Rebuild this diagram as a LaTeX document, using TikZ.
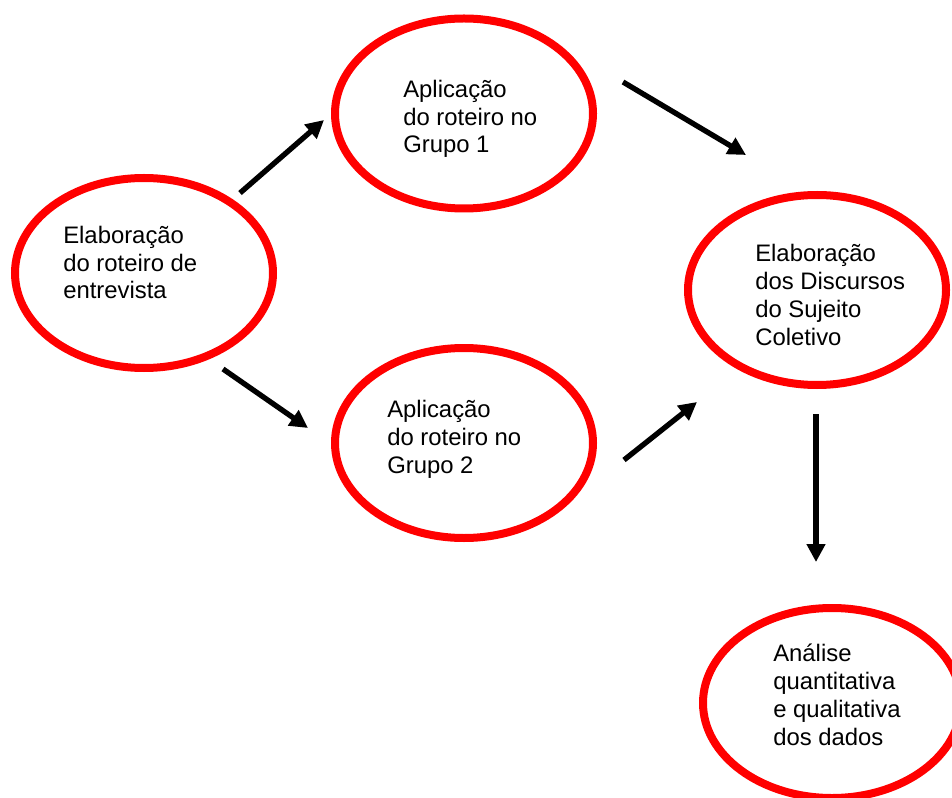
\documentclass[tikz,border=0pt]{standalone}
\usepackage{fontspec}
\setmainfont{Liberation Sans}
\usetikzlibrary{arrows.meta,shapes.geometric}
\definecolor{ellred}{RGB}{255,0,0}
\begin{document}
\begin{tikzpicture}[x=0.75pt,y=-0.75pt,
  oval/.style={ellipse,draw=ellred,line width=6pt,minimum width=193.5pt,minimum height=142.5pt,inner sep=0pt},
  lbl/.style={anchor=base west,align=left,inner sep=0pt,font=\fontsize{17.9pt}{20.8pt}\selectfont},
  flow/.style={line width=4pt,-{Triangle[length=13.5pt,width=13.5pt]}}]
\clip (0,0) rectangle (952,798);
\fill[white] (0,0) rectangle (952,798);
\node[oval] (e1) at (144,273) {};
\node[oval] (e2) at (464,113.5) {};
\node[oval] (e3) at (464,443) {};
\node[oval] (e4) at (817,290) {};
\node[oval] (e5) at (832,703) {};
\node[lbl] (t1) at (63,299) {Elaboração\\do roteiro de\\entrevista};
\node[lbl] (t2) at (403,153) {Aplicação\\do roteiro no\\Grupo 1};
\node[lbl] (t3) at (387,473) {Aplicação\\do roteiro no\\Grupo 2};
\node[lbl] (t4) at (755,345) {Elaboração\\dos Discursos\\do Sujeito\\Coletivo};
\node[lbl] (t5) at (773,745) {Análise\\quantitativa\\e qualitativa\\dos dados};
\coordinate (a1s) at (240,193); \coordinate (a1e) at (324,120);
\coordinate (a2s) at (223,369); \coordinate (a2e) at (308,428);
\coordinate (a3s) at (623,82);  \coordinate (a3e) at (746,155);
\coordinate (a4s) at (624,460); \coordinate (a4e) at (697,402);
\coordinate (a5s) at (816,414); \coordinate (a5e) at (816,562);
\draw[flow] (a1s) -- (a1e);
\draw[flow] (a2s) -- (a2e);
\draw[flow] (a3s) -- (a3e);
\draw[flow] (a4s) -- (a4e);
\draw[flow] (a5s) -- (a5e);
\end{tikzpicture}
\end{document}
